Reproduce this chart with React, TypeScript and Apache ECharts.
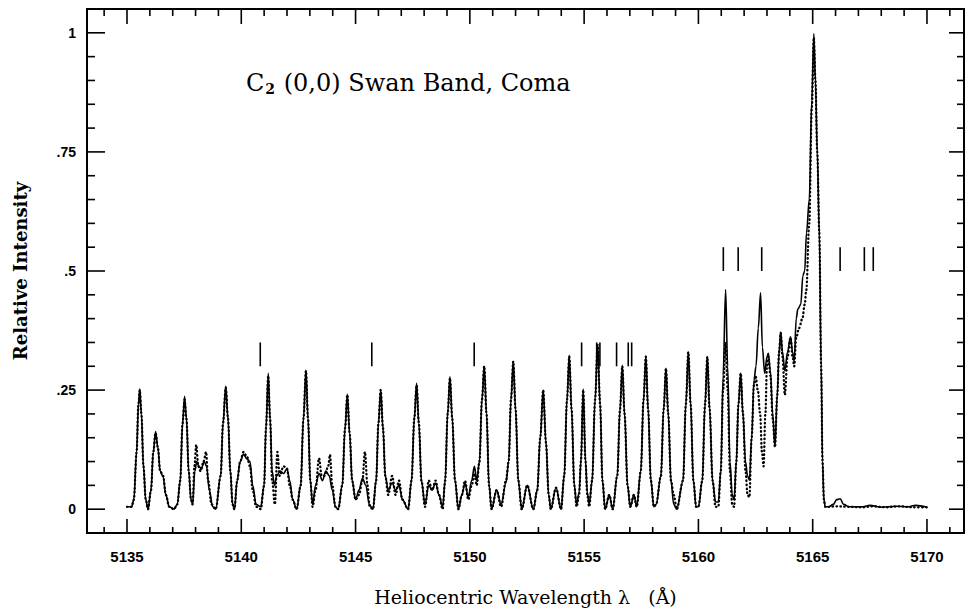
import React, { useEffect, useRef } from "react";
import * as echarts from "echarts";

// ---- axis ticks / labels ----
const xMajorTicks = [5135, 5140, 5145, 5150, 5155, 5160, 5165, 5170];
const xMinorTicks = [
  5134, 5136, 5137, 5138, 5139, 5141, 5142, 5143, 5144, 5146, 5147, 5148, 5149,
  5151, 5152, 5153, 5154, 5156, 5157, 5158, 5159, 5161, 5162, 5163, 5164,
  5166, 5167, 5168, 5169, 5171,
];
const yMajorTicks = [0, 0.25, 0.5, 0.75, 1];
const yMinorTicks = [
  0.05, 0.1, 0.15, 0.2, 0.3, 0.35, 0.4, 0.45, 0.55, 0.6, 0.65, 0.7, 0.8, 0.85, 0.9, 0.95,
];
const xRange = [5133.25, 5171.62];
const yRange = [-0.05, 1.05];

// ---- observed spectrum (solid line): [wavelength Å, relative intensity] ----
const observed: [number, number][] = [
  [5135.0, 0.005], [5135.2, 0.005], [5135.3, 0.02], [5135.42, 0.12], [5135.5, 0.22], [5135.56, 0.252],
  [5135.63, 0.2], [5135.72, 0.09], [5135.82, 0.02], [5135.92, 0.0],
  [5136.05, 0.04], [5136.15, 0.12], [5136.25, 0.163], [5136.35, 0.13], [5136.45, 0.08], [5136.58, 0.068],
  [5136.7, 0.03], [5136.85, 0.005], [5137.05, 0.0], [5137.2, 0.01],
  [5137.33, 0.06], [5137.43, 0.18], [5137.52, 0.237], [5137.6, 0.19], [5137.7, 0.08], [5137.8, 0.02], [5137.87, 0.01],
  [5137.97, 0.08], [5138.05, 0.1], [5138.15, 0.09], [5138.25, 0.085], [5138.38, 0.1], [5138.48, 0.09],
  [5138.6, 0.04], [5138.75, 0.005], [5138.88, 0.0],
  [5139.1, 0.07], [5139.2, 0.18], [5139.32, 0.258], [5139.42, 0.19], [5139.52, 0.08], [5139.62, 0.01], [5139.7, 0.0],
  [5139.82, 0.06], [5139.95, 0.1], [5140.1, 0.115], [5140.25, 0.105], [5140.38, 0.1], [5140.5, 0.05],
  [5140.65, 0.01], [5140.85, 0.005],
  [5141.0, 0.05], [5141.08, 0.17], [5141.18, 0.285], [5141.26, 0.19], [5141.35, 0.08], [5141.45, 0.05],
  [5141.55, 0.07], [5141.7, 0.08], [5141.85, 0.075], [5142.0, 0.085], [5142.12, 0.06], [5142.25, 0.02], [5142.42, 0.0],
  [5142.6, 0.05], [5142.72, 0.19], [5142.83, 0.292], [5142.92, 0.19], [5143.02, 0.06], [5143.12, 0.01],
  [5143.25, 0.05], [5143.4, 0.075], [5143.55, 0.06], [5143.7, 0.08], [5143.85, 0.07], [5143.98, 0.04],
  [5144.12, 0.005], [5144.24, 0.0],
  [5144.42, 0.05], [5144.54, 0.17], [5144.64, 0.241], [5144.74, 0.16], [5144.85, 0.06], [5145.0, 0.02],
  [5145.15, 0.04], [5145.3, 0.065], [5145.45, 0.05], [5145.6, 0.01], [5145.76, 0.0],
  [5145.9, 0.06], [5146.0, 0.18], [5146.1, 0.25], [5146.2, 0.17], [5146.3, 0.07], [5146.43, 0.04],
  [5146.6, 0.055], [5146.75, 0.04], [5146.9, 0.05], [5147.05, 0.02], [5147.3, 0.0],
  [5147.45, 0.06], [5147.57, 0.19], [5147.67, 0.264], [5147.77, 0.18], [5147.88, 0.06], [5148.04, 0.01],
  [5148.2, 0.05], [5148.35, 0.04], [5148.5, 0.055], [5148.65, 0.03], [5148.81, 0.005],
  [5148.92, 0.06], [5149.03, 0.2], [5149.13, 0.278], [5149.23, 0.19], [5149.35, 0.06], [5149.5, 0.0],
  [5149.65, 0.03], [5149.79, 0.055], [5149.93, 0.025], [5150.08, 0.06], [5150.2, 0.09], [5150.3, 0.06],
  [5150.42, 0.1], [5150.53, 0.23], [5150.63, 0.3], [5150.73, 0.2], [5150.84, 0.05], [5150.95, 0.0],
  [5151.17, 0.04], [5151.37, 0.01], [5151.58, 0.055],
  [5151.7, 0.1], [5151.8, 0.23], [5151.9, 0.31], [5152.0, 0.21], [5152.12, 0.06], [5152.27, 0.0],
  [5152.51, 0.05], [5152.78, 0.0],
  [5152.95, 0.04], [5153.08, 0.15], [5153.21, 0.25], [5153.33, 0.14], [5153.45, 0.03], [5153.54, 0.0],
  [5153.77, 0.045], [5153.99, 0.0],
  [5154.13, 0.07], [5154.25, 0.23], [5154.35, 0.323], [5154.45, 0.21], [5154.57, 0.05], [5154.67, 0.01],
  [5154.78, 0.035], [5154.86, 0.1], [5154.96, 0.252], [5155.06, 0.1], [5155.14, 0.035], [5155.22, 0.01],
  [5155.35, 0.06], [5155.48, 0.23], [5155.59, 0.345], [5155.7, 0.22], [5155.8, 0.06], [5155.92, 0.0],
  [5156.1, 0.03], [5156.25, 0.0],
  [5156.45, 0.07], [5156.57, 0.21], [5156.67, 0.302], [5156.77, 0.2], [5156.9, 0.05], [5157.02, 0.005],
  [5157.18, 0.03], [5157.3, 0.005],
  [5157.48, 0.08], [5157.6, 0.23], [5157.7, 0.321], [5157.8, 0.21], [5157.92, 0.06], [5158.05, 0.005], [5158.15, 0.01],
  [5158.36, 0.07], [5158.48, 0.21], [5158.58, 0.296], [5158.68, 0.2], [5158.8, 0.06], [5158.92, 0.01], [5159.05, 0.0],
  [5159.33, 0.06], [5159.45, 0.22], [5159.56, 0.33], [5159.66, 0.22], [5159.78, 0.06], [5159.9, 0.005], [5160.0, 0.005],
  [5160.17, 0.06], [5160.29, 0.22], [5160.39, 0.32], [5160.49, 0.21], [5160.62, 0.06], [5160.75, 0.015], [5160.87, 0.015],
  [5160.98, 0.08], [5161.08, 0.28], [5161.19, 0.461], [5161.28, 0.3], [5161.38, 0.1], [5161.48, 0.03], [5161.56, 0.02],
  [5161.66, 0.1], [5161.75, 0.22], [5161.85, 0.285], [5161.95, 0.2], [5162.06, 0.1], [5162.15, 0.07], [5162.23, 0.061],
  [5162.33, 0.15], [5162.43, 0.27], [5162.52, 0.3], [5162.62, 0.38], [5162.72, 0.454], [5162.8, 0.34],
  [5162.9, 0.285], [5163.0, 0.32], [5163.06, 0.327], [5163.15, 0.29], [5163.25, 0.2], [5163.35, 0.131],
  [5163.45, 0.24], [5163.53, 0.33], [5163.6, 0.372], [5163.68, 0.33], [5163.78, 0.29], [5163.9, 0.33],
  [5164.03, 0.362], [5164.12, 0.33], [5164.19, 0.31], [5164.28, 0.4], [5164.35, 0.42], [5164.48, 0.43],
  [5164.57, 0.49], [5164.65, 0.5], [5164.73, 0.58], [5164.85, 0.65], [5164.96, 0.86], [5165.05, 0.998],
  [5165.12, 0.9], [5165.2, 0.75], [5165.29, 0.58], [5165.37, 0.3], [5165.43, 0.1], [5165.49, 0.02],
  [5165.55, 0.005], [5165.7, 0.005], [5165.9, 0.01], [5166.05, 0.02], [5166.2, 0.022], [5166.35, 0.01],
  [5166.6, 0.005], [5167.2, 0.005], [5167.5, 0.008], [5168.0, 0.004], [5168.6, 0.006], [5169.2, 0.005],
  [5169.5, 0.008], [5170.0, 0.004],
];

// ---- synthetic (model) spectrum (dotted line): [wavelength Å, relative intensity] ----
const synthetic: [number, number][] = [
  [5135.0, 0.005], [5135.2, 0.005], [5135.3, 0.02], [5135.42, 0.12], [5135.5, 0.22], [5135.56, 0.25],
  [5135.63, 0.2], [5135.72, 0.09], [5135.82, 0.02], [5135.92, 0.0],
  [5136.05, 0.04], [5136.15, 0.12], [5136.25, 0.16], [5136.35, 0.13], [5136.45, 0.08], [5136.58, 0.07],
  [5136.7, 0.03], [5136.85, 0.005], [5137.05, 0.0], [5137.2, 0.01],
  [5137.33, 0.06], [5137.43, 0.18], [5137.52, 0.23], [5137.6, 0.19], [5137.7, 0.08], [5137.8, 0.02], [5137.87, 0.01],
  [5137.95, 0.09], [5138.03, 0.135], [5138.12, 0.09], [5138.22, 0.08], [5138.35, 0.1], [5138.46, 0.12],
  [5138.55, 0.06], [5138.7, 0.01], [5138.88, 0.0],
  [5139.1, 0.07], [5139.2, 0.18], [5139.32, 0.255], [5139.42, 0.19], [5139.52, 0.08], [5139.62, 0.01], [5139.7, 0.0],
  [5139.82, 0.06], [5139.95, 0.1], [5140.1, 0.12], [5140.25, 0.11], [5140.38, 0.09], [5140.5, 0.04],
  [5140.65, 0.005], [5140.85, 0.0],
  [5141.0, 0.05], [5141.08, 0.17], [5141.18, 0.28], [5141.26, 0.19], [5141.35, 0.06], [5141.47, 0.01],
  [5141.58, 0.12], [5141.68, 0.07], [5141.85, 0.09], [5142.0, 0.085], [5142.12, 0.05], [5142.25, 0.02], [5142.42, 0.0],
  [5142.6, 0.05], [5142.72, 0.19], [5142.83, 0.29], [5142.92, 0.19], [5143.02, 0.06], [5143.12, 0.005],
  [5143.25, 0.04], [5143.4, 0.107], [5143.52, 0.07], [5143.65, 0.07], [5143.8, 0.09], [5143.88, 0.114],
  [5143.98, 0.05], [5144.12, 0.005], [5144.24, 0.0],
  [5144.42, 0.05], [5144.54, 0.17], [5144.64, 0.24], [5144.74, 0.16], [5144.85, 0.06], [5145.0, 0.02],
  [5145.15, 0.03], [5145.3, 0.06], [5145.41, 0.12], [5145.52, 0.05], [5145.62, 0.005], [5145.76, 0.0],
  [5145.9, 0.06], [5146.0, 0.18], [5146.1, 0.25], [5146.2, 0.17], [5146.3, 0.07], [5146.43, 0.03],
  [5146.6, 0.07], [5146.75, 0.03], [5146.9, 0.06], [5147.05, 0.02], [5147.3, 0.0],
  [5147.45, 0.06], [5147.57, 0.19], [5147.67, 0.26], [5147.77, 0.18], [5147.88, 0.06], [5148.04, 0.005],
  [5148.2, 0.06], [5148.35, 0.04], [5148.5, 0.06], [5148.65, 0.03], [5148.81, 0.0],
  [5148.92, 0.06], [5149.03, 0.2], [5149.13, 0.275], [5149.23, 0.19], [5149.35, 0.06], [5149.5, 0.0],
  [5149.65, 0.03], [5149.79, 0.06], [5149.93, 0.02], [5150.08, 0.05], [5150.2, 0.075], [5150.3, 0.05],
  [5150.42, 0.1], [5150.53, 0.23], [5150.63, 0.3], [5150.73, 0.2], [5150.84, 0.05], [5150.95, 0.0],
  [5151.17, 0.04], [5151.37, 0.005], [5151.58, 0.06],
  [5151.7, 0.1], [5151.8, 0.23], [5151.9, 0.31], [5152.0, 0.21], [5152.12, 0.06], [5152.27, 0.0],
  [5152.51, 0.05], [5152.78, 0.0],
  [5152.95, 0.04], [5153.08, 0.15], [5153.21, 0.25], [5153.33, 0.14], [5153.45, 0.03], [5153.54, 0.0],
  [5153.77, 0.045], [5153.99, 0.0],
  [5154.13, 0.07], [5154.25, 0.23], [5154.35, 0.32], [5154.45, 0.21], [5154.57, 0.05], [5154.67, 0.005],
  [5154.78, 0.03], [5154.86, 0.1], [5154.96, 0.25], [5155.06, 0.1], [5155.14, 0.03], [5155.22, 0.005],
  [5155.35, 0.06], [5155.48, 0.23], [5155.59, 0.345], [5155.7, 0.22], [5155.8, 0.06], [5155.92, 0.0],
  [5156.1, 0.03], [5156.25, 0.0],
  [5156.45, 0.07], [5156.57, 0.21], [5156.67, 0.3], [5156.77, 0.2], [5156.9, 0.05], [5157.02, 0.005],
  [5157.18, 0.03], [5157.3, 0.005],
  [5157.48, 0.08], [5157.6, 0.23], [5157.7, 0.32], [5157.8, 0.21], [5157.92, 0.06], [5158.05, 0.005], [5158.15, 0.01],
  [5158.36, 0.07], [5158.48, 0.21], [5158.58, 0.295], [5158.68, 0.2], [5158.8, 0.06], [5158.92, 0.03], [5159.05, 0.0],
  [5159.33, 0.06], [5159.45, 0.22], [5159.56, 0.33], [5159.66, 0.22], [5159.78, 0.06], [5159.9, 0.005], [5160.0, 0.005],
  [5160.17, 0.06], [5160.29, 0.22], [5160.39, 0.32], [5160.49, 0.21], [5160.62, 0.06], [5160.75, 0.005], [5160.87, 0.005],
  [5160.98, 0.08], [5161.08, 0.25], [5161.19, 0.35], [5161.28, 0.25], [5161.38, 0.08], [5161.48, 0.01], [5161.56, 0.005],
  [5161.66, 0.1], [5161.75, 0.22], [5161.85, 0.285], [5161.95, 0.2], [5162.06, 0.08], [5162.15, 0.03], [5162.23, 0.025],
  [5162.33, 0.15], [5162.43, 0.26], [5162.5, 0.28], [5162.6, 0.25], [5162.7, 0.2], [5162.78, 0.12],
  [5162.85, 0.09], [5162.93, 0.2], [5163.0, 0.3], [5163.06, 0.32], [5163.15, 0.28], [5163.25, 0.19], [5163.35, 0.13],
  [5163.45, 0.24], [5163.53, 0.33], [5163.6, 0.37], [5163.68, 0.32], [5163.78, 0.24], [5163.9, 0.32],
  [5164.03, 0.36], [5164.12, 0.32], [5164.19, 0.3], [5164.28, 0.36], [5164.4, 0.38], [5164.55, 0.4],
  [5164.65, 0.43], [5164.72, 0.46], [5164.85, 0.6], [5164.96, 0.84], [5165.05, 0.99],
  [5165.12, 0.9], [5165.2, 0.75], [5165.29, 0.58], [5165.37, 0.3], [5165.43, 0.1], [5165.49, 0.02],
  [5165.55, 0.005], [5165.7, 0.005], [5166.0, 0.006], [5166.6, 0.005], [5167.2, 0.004], [5167.6, 0.006],
  [5168.2, 0.004], [5168.8, 0.006], [5169.4, 0.004], [5170.0, 0.004],
];

// ---- line identification markers: wavelength, bottom, top ----
const markerWavelengths = [
  5140.83, 5145.71, 5150.19, 5154.89, 5155.55, 5155.69, 5156.42, 5156.93, 5157.08,
  5161.09, 5161.74, 5162.77, 5166.2, 5167.26, 5167.65,
];
const markerBottoms = [0.3, 0.3, 0.3, 0.3, 0.3, 0.3, 0.3, 0.3, 0.3, 0.5, 0.5, 0.5, 0.5, 0.5, 0.5];
const markerTops = [0.35, 0.35, 0.35, 0.35, 0.35, 0.35, 0.35, 0.35, 0.35, 0.55, 0.55, 0.55, 0.55, 0.55, 0.55];

const titleParts = ["C", "2", " (0,0) Swan Band, Coma"];
const xAxisName = "Heliocentric Wavelength λ   (Å)";
const yAxisName = "Relative Intensity";

const TICK_FONT = "'Liberation Sans', Arial, sans-serif";
const SERIF = "'DejaVu Serif', serif";

function fmtY(v: number): string {
  if (v === 0) return "0";
  if (v === 1) return "1";
  return String(v).replace(/^0/, "");
}

export default function App() {
  const ref = useRef<HTMLDivElement>(null);

  useEffect(() => {
    if (!ref.current) return;
    const chart = echarts.init(ref.current, null, { renderer: "svg" });

    const option: any = {
      animation: false,
      title: {
        text: `{a|${titleParts[0]}}{s|${titleParts[1]}}{a|${titleParts[2]}}`,
        left: 241,
        top: 64,
        textStyle: {
          rich: {
            a: { fontFamily: SERIF, fontSize: 24, fontWeight: "normal", color: "#000" },
            s: { fontFamily: SERIF, fontSize: 14, fontWeight: "bold", color: "#000", verticalAlign: "bottom", padding: [13, 1, 0, 1] },
          },
        },
      },
      grid: {
        left: 87, right: 5, top: 9, bottom: 79,
        show: true, borderColor: "#000", borderWidth: 2,
      },
      xAxis: {
        type: "value",
        min: xRange[0],
        max: xRange[1],
        splitLine: { show: false },
        axisLine: { show: true, onZero: false, lineStyle: { color: "#000", width: 2 } },
        axisTick: { show: false },
        axisLabel: {
          show: true,
          customValues: xMajorTicks,
          formatter: (v: number) => String(v),
          margin: 16,
          fontFamily: TICK_FONT,
          fontWeight: "bold",
          fontSize: 15,
          color: "#000",
        },
        name: xAxisName,
        nameLocation: "middle",
        nameGap: 54,
        nameTextStyle: { fontFamily: SERIF, fontSize: 19, color: "#000" },
      },
      yAxis: {
        type: "value",
        min: yRange[0],
        max: yRange[1],
        splitLine: { show: false },
        axisLine: { show: true, onZero: false, lineStyle: { color: "#000", width: 2 } },
        axisTick: { show: false },
        axisLabel: {
          show: true,
          customValues: yMajorTicks,
          margin: 11,
          formatter: (v: number) => fmtY(v),
          fontFamily: TICK_FONT,
          fontWeight: "bold",
          fontSize: 14,
          color: "#000",
        },
        name: yAxisName,
        nameLocation: "middle",
        nameGap: 58,
        nameRotate: 90,
        nameTextStyle: { fontFamily: SERIF, fontSize: 18, fontWeight: "bold", color: "#000" },
      },
      series: [
        {
          name: "Observed",
          type: "line",
          data: observed,
          smooth: 0.35,
          smoothMonotone: "x",
          showSymbol: false,
          symbol: "none",
          lineStyle: { color: "#000", width: 1.6 },
        },
        {
          name: "Synthetic",
          type: "line",
          data: synthetic,
          smooth: 0.35,
          smoothMonotone: "x",
          showSymbol: false,
          symbol: "none",
          lineStyle: { color: "#000", width: 2.3, type: [0.5, 3.4], cap: "round" },
        },
        {
          name: "Lines",
          type: "custom",
          data: markerWavelengths.map((w, i) => [w, markerBottoms[i], markerTops[i]]),
          encode: { x: 0, y: [1, 2] },
          renderItem: (_params: any, api: any) => {
            const p0 = api.coord([api.value(0), api.value(1)]);
            const p1 = api.coord([api.value(0), api.value(2)]);
            return {
              type: "line",
              shape: { x1: p0[0], y1: p0[1], x2: p1[0], y2: p1[1] },
              style: { stroke: "#000", lineWidth: 1.6 },
            };
          },
        },
      ],
    };

    chart.setOption(option);

    // Tick marks on all four sides, positioned through the chart's own scales
    const px = (x: number, y: number) =>
      chart.convertToPixel({ xAxisIndex: 0, yAxisIndex: 0 }, [x, y]) as number[];
    const tickEls: any[] = [];
    const addTick = (x1: number, y1: number, x2: number, y2: number) =>
      tickEls.push({
        type: "line",
        z: 100,
        silent: true,
        shape: { x1, y1, x2, y2 },
        style: { stroke: "#000", lineWidth: 1.6 },
      });
    const xTicks = (vals: number[], lb: number, lt: number) =>
      vals.forEach((v) => {
        const b = px(v, yRange[0]);
        const t = px(v, yRange[1]);
        addTick(b[0], b[1], b[0], b[1] - lb);
        addTick(t[0], t[1], t[0], t[1] + lt);
      });
    const yTicks = (vals: number[], ll: number, lr: number) =>
      vals.forEach((v) => {
        const l = px(xRange[0], v);
        const r = px(xRange[1], v);
        addTick(l[0], l[1], l[0] + ll, l[1]);
        addTick(r[0], r[1], r[0] - lr, r[1]);
      });
    xTicks(xMajorTicks, 14, 15);
    xTicks(xMinorTicks, 6, 7);
    yTicks(yMajorTicks, 18, 15);
    yTicks(yMinorTicks, 8, 7);
    chart.setOption({ graphic: { elements: tickEls } });

    return () => chart.dispose();
  }, []);

  return (
    <div
      ref={ref}
      style={{ position: "fixed", left: 0, top: 0, width: 969, height: 612, background: "#fff" }}
    />
  );
}
